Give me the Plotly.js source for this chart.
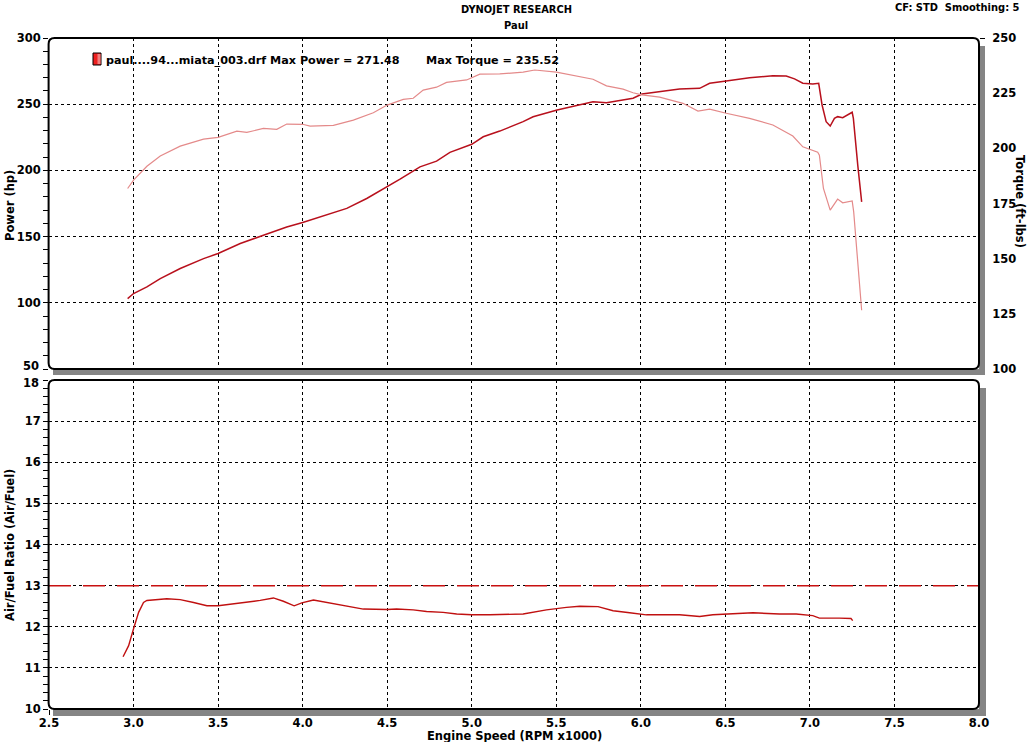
<!DOCTYPE html>
<html>
<head>
<meta charset="utf-8">
<script src="https://cdn.plot.ly/plotly-3.0.1.min.js"></script>
<style>html,body{margin:0;padding:0;background:#fff;}#chart{width:1029px;height:742px;}</style>
</head>
<body>
<div id="chart"></div>
<script>
// ---------- DATA ----------
const rpmPower = [2.965,3.0,3.079,3.158,3.276,3.414,3.5,3.631,3.768,3.906,4.0,4.103,4.261,4.379,4.5,4.576,4.694,4.792,4.871,5.0,5.068,5.166,5.304,5.363,5.505,5.639,5.717,5.797,5.954,6.007,6.111,6.229,6.348,6.407,6.505,6.643,6.781,6.86,6.909,6.958,7.017,7.052,7.072,7.096,7.12,7.145,7.164,7.194,7.25,7.257,7.283,7.306];
const powerHp = [103.2,107,112,118.3,125.9,133.4,137.2,144.8,151,157.3,160.7,164.9,171.3,178.8,187.6,193.4,202.7,207,213.6,219.7,225.4,229.7,236.8,240.5,245.6,249.4,251.9,251.1,254.5,257.7,259.5,261.5,262,265.8,267.5,270,271.5,271.3,269.1,265.8,265.3,265.8,249.4,236.8,233.5,239.3,240.6,239.8,243.9,239.3,204,176.2];

const rpmTorque = [2.965,3.0,3.079,3.158,3.276,3.414,3.5,3.611,3.67,3.768,3.847,3.906,4.0,4.044,4.182,4.3,4.418,4.5,4.595,4.654,4.713,4.792,4.851,4.97,5.048,5.166,5.304,5.373,5.501,5.639,5.717,5.797,5.895,5.954,6.007,6.111,6.249,6.338,6.407,6.505,6.643,6.781,6.899,6.958,7.007,7.046,7.056,7.08,7.12,7.164,7.194,7.25,7.259,7.306];
const torqueFtLb = [181.8,185.6,191.9,196.5,201,204.2,205,207.8,207.2,209,208.6,211,210.9,210.1,210.4,212.8,216.1,219.6,222.2,222.7,226.4,227.7,229.9,231,233.6,233.7,234.5,235.5,234.5,232.5,231.3,228.3,226.8,225.2,224.2,223.2,220.4,216.9,217.8,215.9,213.6,210.6,205.6,200.7,199.2,198.2,196.9,181.8,172,177,175.3,176.2,171.2,126.6];

const rpmAfr = [2.938,2.971,3.0,3.03,3.059,3.079,3.197,3.276,3.355,3.434,3.5,3.65,3.749,3.827,3.886,3.95,3.995,4.064,4.143,4.241,4.359,4.5,4.556,4.654,4.733,4.831,4.911,5.0,5.107,5.304,5.442,5.56,5.639,5.747,5.836,5.934,6.033,6.229,6.348,6.426,6.544,6.663,6.82,6.919,7.017,7.056,7.174,7.243,7.253];
const afrRatio = [11.27,11.54,11.95,12.35,12.59,12.64,12.68,12.66,12.59,12.51,12.51,12.58,12.64,12.7,12.62,12.51,12.58,12.65,12.59,12.51,12.43,12.42,12.43,12.41,12.37,12.35,12.31,12.29,12.29,12.31,12.41,12.47,12.5,12.49,12.39,12.34,12.29,12.29,12.25,12.29,12.31,12.34,12.31,12.31,12.27,12.21,12.21,12.2,12.15];

const afrTargetRpm = [2.5, 8.0];
const afrTarget = [13, 13];

const xTickVals = [2.5,3.0,3.5,4.0,4.5,5.0,5.5,6.0,6.5,7.0,7.5,8.0];
const xTickText = ['2.5','3.0','3.5','4.0','4.5','5.0','5.5','6.0','6.5','7.0','7.5','8.0'];
const powerTickVals = [50,100,150,200,250,300];
const powerTickText = ['','100','150','200','250','300'];   // "50" placed separately (see annotations)
const afrTickVals = [10,11,12,13,14,15,16,17,18];
const afrTickText = ['10','11','12','13','14','15','16','17',''];  // "18" placed separately

// ---------- LAYOUT HELPERS ----------
const W = 1029, H = 742;
const ML = 49, MR = 50, MT = 38, MB = 33;
const PW = W - ML - MR, PH = H - MT - MB;
const px = v => (v - ML) / PW;          // pixel x -> paper x
const py = v => (H - MB - v) / PH;      // pixel y -> paper y

function roundRect(x0, y0, x1, y1, r) {
  const f = (x, y) => px(x).toFixed(5) + ',' + py(y).toFixed(5);
  return 'M' + f(x0 + r, y0) + ' L' + f(x1 - r, y0) + ' Q' + f(x1, y0) + ' ' + f(x1, y0 + r) +
    ' L' + f(x1, y1 - r) + ' Q' + f(x1, y1) + ' ' + f(x1 - r, y1) +
    ' L' + f(x0 + r, y1) + ' Q' + f(x0, y1) + ' ' + f(x0, y1 - r) +
    ' L' + f(x0, y0 + r) + ' Q' + f(x0, y0) + ' ' + f(x0 + r, y0) + ' Z';
}
function pxRect(x0, y0, x1, y1, fill, line, lw, layer) {
  return {type: 'rect', xref: 'paper', yref: 'paper', x0: px(x0), x1: px(x1), y0: py(y1), y1: py(y0),
    fillcolor: fill, line: {color: line || fill, width: lw || 0}, layer: layer || 'above'};
}

const topY0 = 38, topY1 = 369, botY0 = 380, botY1 = 709;
const domTop = [py(topY1), 1];
const domBot = [0, py(botY0)];

const FAM = 'Verdana, "DejaVu Sans", sans-serif';
const tickFont = {family: FAM, size: 11.5, color: '#000', weight: 'bold'};
const titleFont = {family: FAM, size: 11.5, color: '#000', weight: 'bold'};
const legendFont = {family: FAM, size: 11.2, color: '#000', weight: 'bold'};
const headFont = {family: '"DejaVu Sans Condensed", "Liberation Sans Narrow", "Liberation Sans", sans-serif', size: 11, color: '#000', weight: 'bold'};
const gridStyle = {showgrid: true, gridcolor: '#000', gridwidth: 1, griddash: '3px,3px', zeroline: false, showline: false};

const traces = [
  {x: rpmTorque, y: torqueFtLb, xaxis: 'x', yaxis: 'y2', mode: 'lines', line: {color: '#e48a8a', width: 1.2}, hoverinfo: 'skip', showlegend: false},
  {x: rpmPower, y: powerHp, xaxis: 'x', yaxis: 'y', mode: 'lines', line: {color: '#b8101c', width: 1.5}, hoverinfo: 'skip', showlegend: false},
  {x: afrTargetRpm, y: afrTarget, xaxis: 'x2', yaxis: 'y3', mode: 'lines', line: {color: '#c81010', width: 1.5, dash: '22px,12px'}, hoverinfo: 'skip', showlegend: false},
  {x: rpmAfr, y: afrRatio, xaxis: 'x2', yaxis: 'y3', mode: 'lines', line: {color: '#c01010', width: 1.4}, hoverinfo: 'skip', showlegend: false}
];

const layout = {
  width: W, height: H,
  margin: {l: ML, r: MR, t: MT, b: MB, pad: 0},
  paper_bgcolor: '#fff', plot_bgcolor: '#fff',
  showlegend: false,
  xaxis: Object.assign({}, gridStyle, {domain: [0, 1], anchor: 'y', range: [2.5, 8.0], tickvals: xTickVals, showticklabels: false, ticks: ''}),
  xaxis2: Object.assign({}, gridStyle, {domain: [0, 1], anchor: 'y3', range: [2.5, 8.0], tickvals: xTickVals, ticktext: xTickText,
    ticks: 'outside', ticklen: 5, tickcolor: '#000', tickfont: tickFont, ticklabelstandoff: -2,
    minor: {dtick: 0.1, tick0: 2.5, ticks: 'outside', ticklen: 5, tickcolor: '#000', showgrid: false}}),
  yaxis: Object.assign({}, gridStyle, {domain: domTop, anchor: 'x', range: [50, 300], tickvals: powerTickVals, ticktext: powerTickText,
    ticks: 'outside', ticklen: 5, tickcolor: '#000', tickfont: tickFont,
    minor: {dtick: 10, tick0: 50, ticks: 'outside', ticklen: 5, tickcolor: '#000', showgrid: false}}),
  yaxis2: {overlaying: 'y', side: 'right', anchor: 'x', range: [100, 250], dtick: 25, tick0: 100, showgrid: false, zeroline: false, showline: false,
    ticks: 'outside', ticklen: 5, tickcolor: '#000', tickfont: tickFont, ticklabelstandoff: 5,
    minor: {dtick: 5, tick0: 100, ticks: 'outside', ticklen: 5, tickcolor: '#000', showgrid: false}},
  yaxis3: Object.assign({}, gridStyle, {domain: domBot, anchor: 'x2', range: [10, 18], tickvals: afrTickVals, ticktext: afrTickText,
    ticks: 'outside', ticklen: 5, tickcolor: '#000', tickfont: tickFont,
    minor: {dtick: 0.2, tick0: 10, ticks: 'outside', ticklen: 5, tickcolor: '#000', showgrid: false}}),
  shapes: [
    // shadows
    pxRect(53, topY1, 985, topY1 + 6, '#858585'),
    pxRect(979, topY0 + 8, 985, topY1 + 6, '#858585'),
    pxRect(53, botY1, 986, botY1 + 7, '#858585'),
    pxRect(979, botY0 + 8, 986, botY1 + 7, '#858585'),
    // frames
    {type: 'path', xref: 'paper', yref: 'paper', path: roundRect(48.6, topY0, 979, topY1, 6), line: {color: '#000', width: 2}, layer: 'above'},
    {type: 'path', xref: 'paper', yref: 'paper', path: roundRect(48.6, botY0, 979, botY1, 6), line: {color: '#000', width: 2}, layer: 'above'},
    // legend icon
    pxRect(93, 53, 101, 65, '#ee2020', '#000', 1),
    pxRect(97.5, 54, 100.5, 64, '#f08080', '#f08080', 0)
  ],
  annotations: [
    {text: 'DYNOJET RESEARCH', xref: 'paper', yref: 'paper', x: px(516), y: py(10), xanchor: 'center', yanchor: 'middle', showarrow: false, font: headFont},
    {text: 'Paul', xref: 'paper', yref: 'paper', x: px(516), y: py(26), xanchor: 'center', yanchor: 'middle', showarrow: false, font: headFont},
    {text: 'CF: STD&nbsp;&nbsp;Smoothing: 5', xref: 'paper', yref: 'paper', x: px(1022), y: py(7), xanchor: 'right', yanchor: 'middle', showarrow: false, font: headFont},
    {text: 'paul....94...miata_003.drf Max Power = 271.48', xref: 'paper', yref: 'paper', x: px(104), y: py(60), xanchor: 'left', yanchor: 'middle', showarrow: false, font: legendFont},
    {text: 'Max Torque = 235.52', xref: 'paper', yref: 'paper', x: px(424), y: py(60), xanchor: 'left', yanchor: 'middle', showarrow: false, font: legendFont},
    {text: '50', xref: 'paper', yref: 'paper', x: px(41), y: py(366), xanchor: 'right', yanchor: 'middle', showarrow: false, font: tickFont},
    {text: '18', xref: 'paper', yref: 'paper', x: px(41), y: py(382.5), xanchor: 'right', yanchor: 'middle', showarrow: false, font: tickFont},
    {text: 'Power (hp)', xref: 'paper', yref: 'paper', x: px(10), y: py(206), xanchor: 'center', yanchor: 'middle', textangle: -90, showarrow: false, font: titleFont},
    {text: 'Torque (ft-lbs)', xref: 'paper', yref: 'paper', x: px(1020), y: py(201), xanchor: 'center', yanchor: 'middle', textangle: 90, showarrow: false, font: titleFont},
    {text: 'Air/Fuel Ratio (Air/Fuel)', xref: 'paper', yref: 'paper', x: px(10), y: py(545), xanchor: 'center', yanchor: 'middle', textangle: -90, showarrow: false, font: titleFont},
    {text: 'Engine Speed (RPM x1000)', xref: 'paper', yref: 'paper', x: px(514), y: py(736), xanchor: 'center', yanchor: 'middle', showarrow: false, font: titleFont}
  ]
};

Plotly.newPlot('chart', traces, layout, {displayModeBar: false, staticPlot: true});
</script>
</body>
</html>
